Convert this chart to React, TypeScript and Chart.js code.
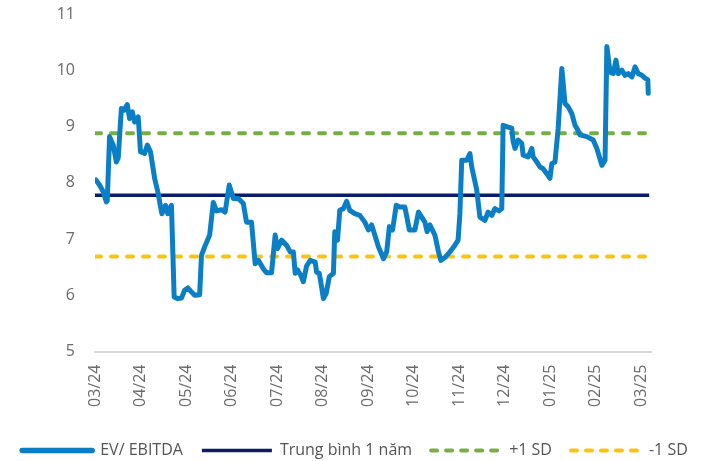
import React, { useEffect, useRef } from "react";
import { Chart, registerables } from "chart.js";

Chart.register(...registerables);

// Month tick labels (one per month, at integer positions 0..12)
const monthLabels = [
  "03/24", "04/24", "05/24", "06/24", "07/24", "08/24", "09/24",
  "10/24", "11/24", "12/24", "01/25", "02/25", "03/25",
];

// EV/EBITDA series: time position in months since 03/24, and value
const evMonths = [
  0.02, 0.10, 0.18, 0.25, 0.27, 0.32, 0.40, 0.47, 0.51, 0.58, 0.64, 0.71, 0.76, 0.82, 0.87, 0.95,
  1.00, 1.09, 1.15, 1.22, 1.31, 1.38, 1.47, 1.55, 1.60, 1.68, 1.74, 1.82, 1.90, 1.97,
  2.04, 2.12, 2.19, 2.30, 2.34, 2.41, 2.52, 2.60, 2.67, 2.78, 2.86, 2.95,
  3.04, 3.15, 3.26, 3.33, 3.44, 3.52, 3.59, 3.70, 3.77, 3.88, 3.96,
  4.01, 4.10, 4.21, 4.29, 4.36, 4.40, 4.45, 4.52, 4.58, 4.65, 4.73, 4.84, 4.87, 4.93, 4.98,
  5.02, 5.08, 5.15, 5.24, 5.27, 5.33, 5.38, 5.46, 5.53, 5.60, 5.71, 5.82, 5.93,
  6.01, 6.08, 6.15, 6.23, 6.34, 6.41, 6.47, 6.54, 6.62, 6.70, 6.81, 6.91,
  7.03, 7.11, 7.18, 7.25, 7.30, 7.36, 7.47, 7.55, 7.60, 7.69, 7.80, 7.91, 7.98,
  8.02, 8.06, 8.17, 8.24, 8.28, 8.39, 8.46, 8.57, 8.64, 8.72, 8.79, 8.88, 8.94, 8.97,
  9.08, 9.16, 9.19, 9.23, 9.30, 9.38, 9.41, 9.52, 9.60, 9.63, 9.71, 9.78, 9.85, 9.93,
  10.00, 10.04, 10.11, 10.18, 10.26, 10.33, 10.40, 10.48, 10.55, 10.59, 10.66, 10.81, 10.95,
  11.03, 11.14, 11.21, 11.25, 11.32, 11.39, 11.45, 11.50, 11.58, 11.65, 11.72, 11.80, 11.87, 11.94,
  12.02, 12.09, 12.15, 12.16,
];

const evValues = [
  8.05, 7.96, 7.84, 7.66, 7.68, 8.82, 8.67, 8.37, 8.44, 9.32, 9.29, 9.39, 9.14, 9.26, 9.08, 9.17,
  8.55, 8.52, 8.67, 8.55, 8.08, 7.84, 7.45, 7.60, 7.45, 7.60, 5.97, 5.94, 5.95, 6.09,
  6.13, 6.06, 6.00, 6.01, 6.71, 6.86, 7.07, 7.65, 7.50, 7.52, 7.48, 7.96,
  7.72, 7.72, 7.63, 7.30, 7.30, 6.56, 6.62, 6.47, 6.40, 6.40, 7.07,
  6.83, 6.98, 6.89, 6.77, 6.77, 6.39, 6.45, 6.36, 6.24, 6.52, 6.62, 6.59, 6.41, 6.39, 6.15,
  5.94, 6.03, 6.33, 6.39, 7.13, 6.98, 7.51, 7.54, 7.67, 7.51, 7.45, 7.42, 7.30,
  7.16, 7.25, 7.07, 6.86, 6.65, 6.77, 7.22, 7.16, 7.60, 7.57, 7.57, 7.16,
  7.16, 7.48, 7.39, 7.30, 7.13, 7.25, 7.07, 6.77, 6.62, 6.67, 6.77, 6.89, 6.98,
  7.45, 8.40, 8.40, 8.52, 8.28, 7.87, 7.39, 7.33, 7.48, 7.42, 7.54, 7.50, 7.54, 9.02,
  8.99, 8.97, 8.73, 8.61, 8.76, 8.70, 8.49, 8.46, 8.61, 8.46, 8.37, 8.28, 8.25, 8.16,
  8.08, 8.34, 8.37, 8.97, 10.03, 9.41, 9.35, 9.23, 9.02, 8.97, 8.85, 8.82, 8.76,
  8.61, 8.31, 8.40, 10.42, 9.97, 9.94, 10.18, 9.94, 10.00, 9.91, 9.94, 9.88, 10.06, 9.94,
  9.91, 9.86, 9.83, 9.59,
];

// Reference levels
const meanLevel = 7.78;
const plusSdLevel = 8.88;
const minusSdLevel = 6.69;
const levelSpan = [0, 12.18];

const seriesNames = ["EV/ EBITDA", "Trung bình 1 năm", "+1 SD", "-1 SD"];

const FONT = "'Open Sans', 'Noto Sans', sans-serif";

export default function App() {
  const canvasRef = useRef<HTMLCanvasElement | null>(null);

  useEffect(() => {
    const canvas = canvasRef.current;
    if (!canvas) return;
    const evData = evMonths.map((m, i) => ({ x: m, y: evValues[i] }));
    const flat = (v: number) => levelSpan.map((m) => ({ x: m, y: v }));

    const chart = new Chart(canvas, {
      type: "line",
      data: {
        datasets: [
          {
            label: seriesNames[0],
            data: evData,
            borderColor: "#0a7fc5",
            backgroundColor: "#0a7fc5",
            borderWidth: 5,
            borderCapStyle: "round",
            borderJoinStyle: "round",
            pointRadius: 0,
            tension: 0,
          },
          {
            label: seriesNames[1],
            data: flat(meanLevel),
            borderColor: "#0b1c6b",
            backgroundColor: "#0b1c6b",
            borderWidth: 3.5,
            borderCapStyle: "butt",
            pointRadius: 0,
          },
          {
            label: seriesNames[2],
            data: flat(plusSdLevel),
            borderColor: "#76af43",
            backgroundColor: "#76af43",
            borderWidth: 4,
            borderDash: [6, 10],
            borderCapStyle: "round",
            pointRadius: 0,
          },
          {
            label: seriesNames[3],
            data: flat(minusSdLevel),
            borderColor: "#fdc20f",
            backgroundColor: "#fdc20f",
            borderWidth: 4,
            borderDash: [6, 10],
            borderCapStyle: "round",
            pointRadius: 0,
          },
        ],
      },
      options: {
        animation: false,
        responsive: false,
        maintainAspectRatio: false,
        layout: { padding: { left: 0, right: 0, top: 14, bottom: 0 } },
        scales: {
          x: {
            type: "linear",
            min: 0,
            max: 12.22,
            grid: { display: false, drawTicks: false },
            border: { display: true, color: "#d9d9d9", width: 2 },
            afterBuildTicks: (scale: any) => {
              scale.ticks = monthLabels.map((_, i) => ({ value: i }));
            },
            afterFit: (scale: any) => {
              scale.height = 72;
            },
            ticks: {
              autoSkip: false,
              maxRotation: 90,
              minRotation: 90,
              padding: 13,
              color: "#6b6b6b",
              font: { family: FONT, size: 16 },
              callback: (v: any) => monthLabels[Math.round(Number(v))] ?? "",
            },
          },
          y: {
            min: 5,
            max: 11,
            grid: { display: false, drawTicks: true, tickLength: 17 },
            border: { display: false },
            afterFit: (scale: any) => {
              scale.width = 95;
            },
            ticks: {
              stepSize: 1,
              padding: 3,
              color: "#6b6b6b",
              font: { family: FONT, size: 16 },
            },
          },
          yRight: {
            position: "right",
            min: 5,
            max: 11,
            grid: { display: false, drawTicks: false },
            border: { display: false },
            ticks: { display: false },
            afterFit: (scale: any) => {
              scale.width = 59;
            },
          },
        },
        plugins: {
          tooltip: { enabled: false },
          legend: {
            position: "bottom",
            maxHeight: 37.5,
            labels: {
              usePointStyle: true,
              pointStyle: "line",
              pointStyleWidth: 70,
              boxHeight: 16,
              padding: 19,
              color: "#555555",
              font: { family: FONT, size: 16 },
              generateLabels: (c: any) => {
                const items = Chart.defaults.plugins.legend.labels.generateLabels(c);
                return items.map((it: any) => {
                  const ds: any = c.data.datasets[it.datasetIndex];
                  return {
                    ...it,
                    pointStyle: "line",
                    strokeStyle: ds.borderColor,
                    lineWidth: it.datasetIndex === 0 ? 5.5 : ds.borderWidth,
                    lineDash: ds.borderDash ? [6, 9] : [],
                    lineCap: ds.borderCapStyle || "butt",
                  };
                });
              },
            },
          },
        },
      },
    });
    return () => chart.destroy();
  }, []);

  return (
    <div style={{ position: "absolute", left: 0, top: 0, width: 710, height: 461 }}>
      <canvas ref={canvasRef} width={710} height={461} style={{ width: 710, height: 461 }} />
    </div>
  );
}
